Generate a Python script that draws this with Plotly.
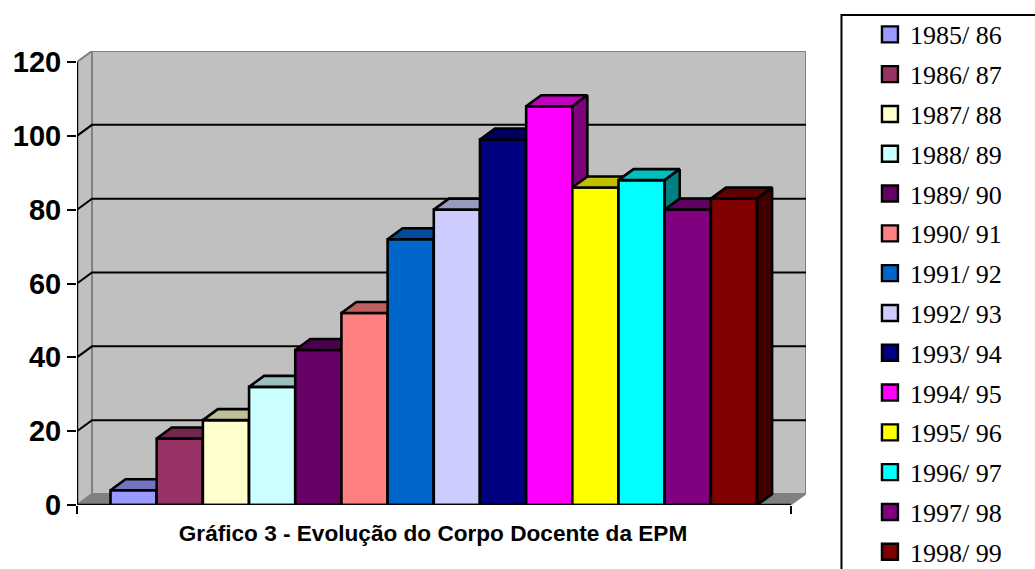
import plotly.graph_objects as go

seasons = ["1985/ 86", "1986/ 87", "1987/ 88", "1988/ 89", "1989/ 90", "1990/ 91", "1991/ 92",
           "1992/ 93", "1993/ 94", "1994/ 95", "1995/ 96", "1996/ 97", "1997/ 98", "1998/ 99"]
docentes = [4, 18, 23, 32, 42, 52, 72, 80, 99, 108, 86, 88, 80, 83]
y_ticks = [0, 20, 40, 60, 80, 100, 120]
title_text = "Gráfico 3 - Evolução do Corpo Docente da EPM"

colors = ["#9999FF", "#993366", "#FFFFCC", "#CCFFFF", "#660066", "#FF8080", "#0066CC",
          "#CCCCFF", "#000080", "#FF00FF", "#FFFF00", "#00FFFF", "#800080", "#800000"]

W, H = 1035, 569
# pixel layout of the pseudo-3D plot box
PX_L, PX_R, PX_BACK_R, PX_0, PX_PER_UNIT = 76.5, 790.0, 806.0, 505.0, 3.695
BAR_L, BAR_W = 110.0, 46.15
DX = 15.0 / BAR_W      # depth, in x units
DY = 11.0 / PX_PER_UNIT  # depth, in y units
BAR_LINE = 2.6

x_l = -0.5 - (BAR_L - PX_L) / BAR_W
x_r = -0.5 + (PX_R - BAR_L) / BAR_W
y_top = y_ticks[-1]


def shade(hex_color, k):
    r, g, b = (int(hex_color[i:i + 2], 16) for i in (1, 3, 5))
    return f"rgb({round(r * k)},{round(g * k)},{round(b * k)})"


def poly(xs, ys, fill, line, width, z, group=None):
    return go.Scatter(x=xs, y=ys, mode="lines", fill="toself", fillcolor=fill,
                      line=dict(color=line, width=width), showlegend=False, hoverinfo="skip",
                      cliponaxis=False, zorder=z, legendgroup=group)


fig = go.Figure()

# walls and floor
fig.add_trace(poly([x_l, x_l + DX, x_l + DX, x_l, x_l], [0, DY, y_top + DY, y_top, 0], "#C0C0C0", "#808080", 2, 0))
fig.add_trace(poly([x_l + DX, x_r + DX, x_r + DX, x_l + DX, x_l + DX],
                   [DY, DY, y_top + DY, y_top + DY, DY], "#C0C0C0", "#808080", 2, 0))
fig.add_trace(poly([x_l, x_l + DX, x_r + DX, x_r, x_l], [0, DY, DY, 0, 0], "#808080", "#808080", 1, 0))

# gridlines on side and back walls
gx, gy = [], []
for v in y_ticks[1:-1]:
    gx += [x_l, x_l + DX, x_r + DX, None]
    gy += [v, v + DY, v + DY, None]
fig.add_trace(go.Scatter(x=gx, y=gy, mode="lines", line=dict(color="black", width=2),
                         showlegend=False, hoverinfo="skip", cliponaxis=False, zorder=1))

# bars, left to right so each one covers its left neighbour's side
for i, (name, v, c) in enumerate(zip(seasons, docentes, colors)):
    z = 10 + i
    fig.add_trace(go.Bar(x=[i], y=[v], width=1, marker=dict(color=c, line=dict(color="black", width=BAR_LINE)),
                         name=name, legendgroup=name, showlegend=False, zorder=z,
                         hovertemplate=name + ": %{y}<extra></extra>"))
    l, r = i - 0.5, i + 0.5
    fig.add_trace(poly([l, l + DX, r + DX, r, l], [v, v + DY, v + DY, v, v], shade(c, 0.75), "black", BAR_LINE, z, name))
    fig.add_trace(poly([r, r + DX, r + DX, r, r], [0, DY, v + DY, v, 0], shade(c, 0.5), "black", BAR_LINE, z, name))

# front axis lines
fig.add_trace(go.Scatter(x=[x_l, x_l, x_r], y=[y_top, 0, 0], mode="lines", line=dict(color="black", width=2.4),
                         showlegend=False, hoverinfo="skip", cliponaxis=False, zorder=40))

# legend entries
for name, c in zip(seasons, colors):
    fig.add_trace(go.Scatter(x=[None], y=[None], mode="markers", name=name, legendgroup=name,
                             marker=dict(symbol="square", size=16, color=c, line=dict(color="black", width=2.4))))

y_max = y_top + DY
PX_T = PX_0 - y_max * PX_PER_UNIT
plot_w = PX_BACK_R - PX_L
plot_h = PX_0 - PX_T

LEG_LEFT, LEG_TOP = 870.0, 10.5

fig.update_layout(
    width=W, height=H,
    margin=dict(l=PX_L, r=W - PX_BACK_R, t=PX_T, b=H - PX_0, pad=0, autoexpand=False),
    paper_bgcolor="white", plot_bgcolor="white",
    barmode="overlay", hovermode="closest",
    title=dict(text=title_text, x=433 / W, xref="container", xanchor="center",
               y=1 - 533 / H, yref="container", yanchor="middle",
               font=dict(family="Liberation Sans", size=22.6, color="black", weight=700)),
    xaxis=dict(range=[x_l, x_r + DX], showgrid=False, zeroline=False, showline=False,
               tickmode="array", tickvals=[x_l, x_r], showticklabels=False,
               ticks="outside", ticklen=8, tickwidth=2, tickcolor="black"),
    yaxis=dict(range=[0, y_max], showgrid=False, zeroline=False, showline=False,
               tickmode="array", tickvals=y_ticks,
               ticks="outside", ticklen=9, tickwidth=2.4, tickcolor="black",
               tickfont=dict(family="Liberation Sans", size=29, color="black", weight=700)),
    legend=dict(x=(LEG_LEFT - PX_L) / plot_w, xanchor="left",
                y=(PX_0 - LEG_TOP) / plot_h, yanchor="top", maxheight=1,
                font=dict(family="Liberation Serif", size=26, color="black"),
                tracegroupgap=3, bgcolor="rgba(0,0,0,0)", borderwidth=0,
                itemclick=False, itemdoubleclick=False),
    showlegend=True,
    shapes=[dict(type="rect", xref="paper", yref="paper",
                 x0=(841.5 - PX_L) / plot_w, x1=(W + 10 - PX_L) / plot_w,
                 y0=(PX_0 - H - 10) / plot_h, y1=(PX_0 - 14.5) / plot_h,
                 line=dict(color="black", width=2), fillcolor="rgba(0,0,0,0)", layer="below")],
)

fig.write_html("out.html", config={"displayModeBar": False},
               post_script="document.body.style.margin='0';document.body.style.overflow='hidden';")
